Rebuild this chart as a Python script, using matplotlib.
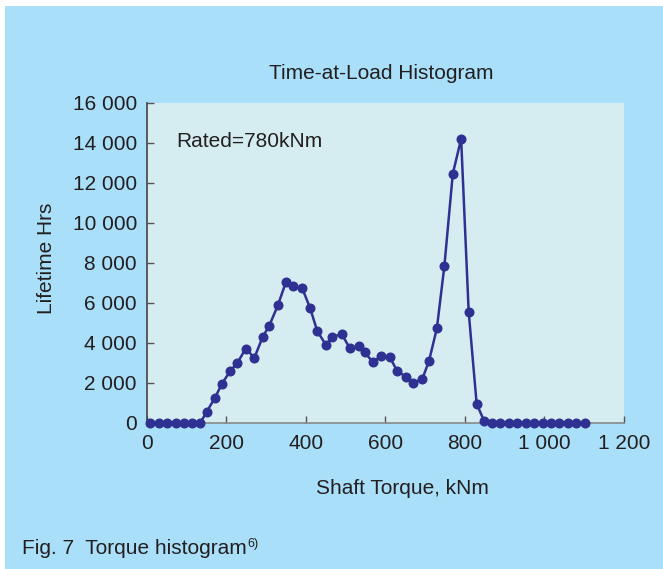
import matplotlib
matplotlib.use("Agg")
import matplotlib.pyplot as plt
from matplotlib.patches import Rectangle
from matplotlib.ticker import FuncFormatter

plt.rcParams["font.family"] = ["Liberation Sans", "DejaVu Sans"]

# torque bins (kNm) and lifetime hours
torque = [8, 31, 52, 73, 93, 115, 135, 151, 171, 189, 210, 228, 249, 271, 292,
          308, 330, 350, 369, 391, 411, 429, 451, 467, 491, 511, 534, 548, 569,
          589, 612, 630, 652, 671, 693, 710, 730, 749, 770, 791, 810, 830, 849,
          869, 889, 911, 932, 954, 975, 996, 1017, 1038, 1059, 1080, 1102]
hours = [0, 0, 0, 0, 0, 0, 0, 550, 1220, 1935, 2585, 2985, 3700, 3250, 4300,
         4835, 5870, 7020, 6820, 6735, 5735, 4585, 3885, 4300, 4420, 3720, 3820,
         3520, 3035, 3320, 3270, 2585, 2300, 2000, 2170, 3070, 4720, 7860, 12435,
         14200, 5550, 950, 80, 0, 0, 0, 0, 0, 0, 0, 0, 0, 0, 0, 0]

xticks = [0, 200, 400, 600, 800, 1000, 1200]
yticks = [0, 2000, 4000, 6000, 8000, 10000, 12000, 14000, 16000]

W, H = 663, 569
bg = "#a9dff9"
plot_bg = "#d5edf1"
line_col = "#2e3192"
txt_col = "#231f20"
fs = 15

fig = plt.figure(figsize=(W / 100, H / 100), dpi=100)
fig.patch.set_facecolor("white")
fig.patches.append(Rectangle((5 / W, 0), 1, 1 - 6 / H, transform=fig.transFigure,
                             facecolor=bg, edgecolor="none", zorder=-10))

ax = fig.add_axes([146.7 / W, 1 - 422.7 / H, 477 / W, 320 / H])
ax.set_facecolor(plot_bg)
ax.plot(torque, hours, "-o", color=line_col, lw=1.8, ms=6.2, clip_on=False, zorder=3)

ax.set_xlim(0, 1200)
ax.set_ylim(0, 16000)
ax.set_xticks(xticks)
ax.set_yticks(yticks)
fmt = FuncFormatter(lambda v, p: f"{int(v):,}".replace(",", " "))
ax.xaxis.set_major_formatter(fmt)
ax.yaxis.set_major_formatter(fmt)
ax.tick_params(direction="in", length=5, width=1, color="#555555",
               labelsize=fs, labelcolor=txt_col)
ax.tick_params(axis="y", pad=7)
ax.tick_params(axis="x", pad=8)
for s in ["top", "right"]:
    ax.spines[s].set_visible(False)
ax.spines["left"].set_color("#444444")
ax.spines["bottom"].set_color("#888888")
ax.spines["left"].set_linewidth(1.2)
ax.spines["bottom"].set_linewidth(1.2)

ax.text(74, 14035, "Rated=780kNm", fontsize=fs, color=txt_col, va="center", ha="left")

fig.text(381 / W, 1 - 74 / H, "Time-at-Load Histogram", fontsize=fs, color=txt_col,
         ha="center", va="center")
fig.text(46 / W, 1 - 258 / H, "Lifetime Hrs", fontsize=fs, color=txt_col,
         ha="center", va="center", rotation=90)
fig.text(402 / W, 1 - 489 / H, "Shaft Torque, kNm", fontsize=fs, color=txt_col,
         ha="center", va="center")
cap = fig.text(22 / W, 1 - 548 / H, "Fig. 7  Torque histogram", fontsize=fs,
               color=txt_col, ha="left", va="center")
fig.canvas.draw()
bb = cap.get_window_extent()
fig.text((bb.x1 + 1) / W, 1 - 544 / H, "6)", fontsize=9, color=txt_col,
         ha="left", va="center")

fig.savefig("out.png", dpi=100, facecolor=fig.get_facecolor())
